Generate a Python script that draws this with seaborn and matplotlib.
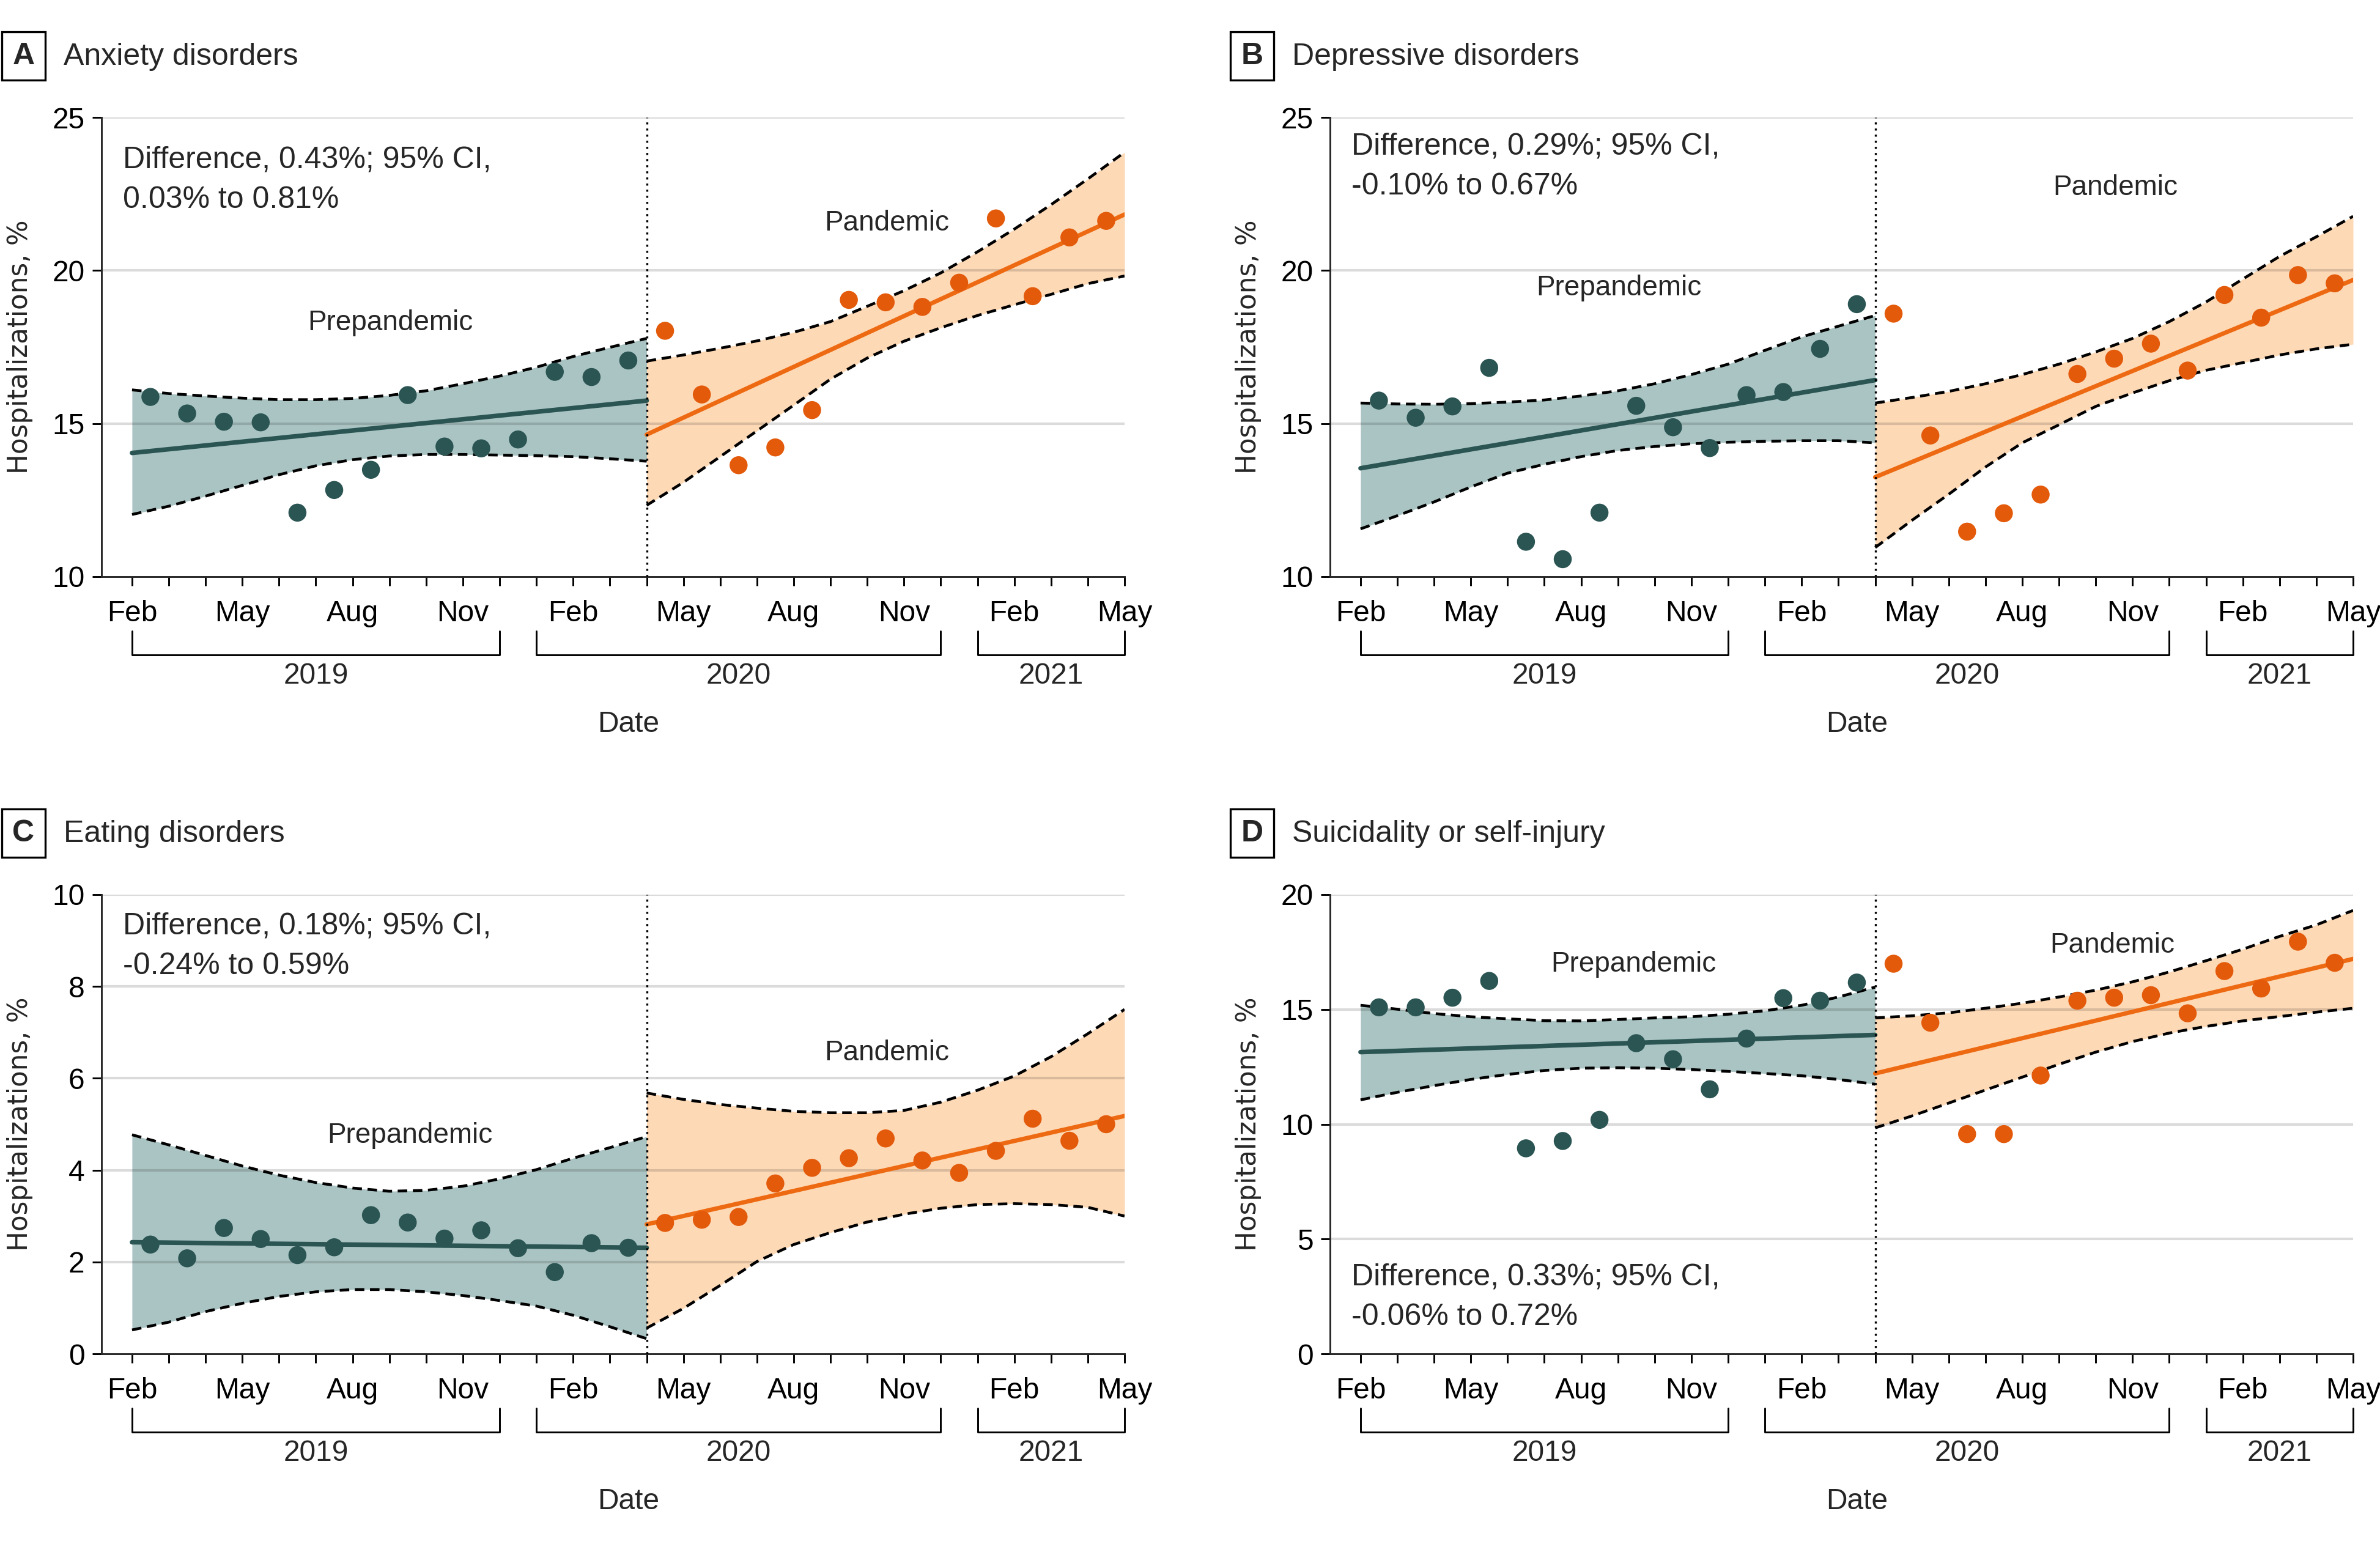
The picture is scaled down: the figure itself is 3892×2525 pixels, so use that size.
# Hospitalizations for mental health conditions, prepandemic vs pandemic
# 4 panels: monthly points + fitted trend with 95% CI band

import numpy as np
import pandas as pd
import matplotlib
matplotlib.use("Agg")
import matplotlib.pyplot as plt
import matplotlib.transforms as mtransforms
from matplotlib.patches import Rectangle
import seaborn as sns

# 1. Axis categories (month index 0 = Feb 2019, 27 = May 2021)
start = pd.Period("2019-02", freq="M")
pre_months = pd.period_range("2019-02", "2020-03", freq="M")
pan_months = pd.period_range("2020-04", "2021-04", freq="M")
tick_months = pd.period_range("2019-02", "2021-05", freq="M")
tick_names = ["Feb", "", "", "May", "", "", "Aug", "", "", "Nov", "", "",
              "Feb", "", "", "May", "", "", "Aug", "", "", "Nov", "", "",
              "Feb", "", "", "May"]
years = ["2019", "2020", "2021"]
year_spans = [("2019-02", "2019-12"), ("2020-01", "2020-12"), ("2021-01", "2021-05")]
pandemic_start = "2020-04"

# months at which the CI band edges were read
band_x_pre = list(range(0, 15))
band_x_pan = list(range(14, 28))

# 2. Panel A - Anxiety disorders
anx_pre = [15.87, 15.33, 15.06, 15.04, 12.09, 12.83, 13.49, 15.93, 14.25, 14.19, 14.48, 16.69, 16.52, 17.06]
anx_pan = [18.03, 15.95, 13.64, 14.22, 15.44, 19.04, 18.96, 18.81, 19.60, 21.70, 19.16, 21.08, 21.62]
anx_fit_pre = [14.04, 15.75]
anx_fit_pan = [14.64, 21.83]
anx_up_pre = [16.10, 15.98, 15.90, 15.83, 15.78, 15.78, 15.82, 15.92, 16.07, 16.30, 16.55, 16.84, 17.19, 17.49, 17.78]
anx_lo_pre = [12.03, 12.30, 12.63, 12.98, 13.33, 13.62, 13.82, 13.94, 13.99, 13.99, 13.97, 13.95, 13.92, 13.85, 13.77]
anx_up_pan = [17.04, 17.24, 17.46, 17.70, 17.98, 18.33, 18.83, 19.34, 19.92, 20.61, 21.35, 22.15, 22.99, 23.86]
anx_lo_pan = [12.33, 13.08, 13.92, 14.76, 15.60, 16.45, 17.14, 17.69, 18.13, 18.53, 18.88, 19.22, 19.57, 19.82]

# 3. Panel B - Depressive disorders
dep_pre = [15.75, 15.19, 15.56, 16.82, 11.14, 10.57, 12.09, 15.58, 14.88, 14.20, 15.93, 16.03, 17.44, 18.90]
dep_pan = [18.59, 14.61, 11.47, 12.07, 12.68, 16.62, 17.12, 17.61, 16.73, 19.20, 18.46, 19.85, 19.58]
dep_fit_pre = [13.54, 16.42]
dep_fit_pan = [13.25, 19.69]
dep_up_pre = [15.67, 15.64, 15.63, 15.65, 15.70, 15.77, 15.90, 16.07, 16.30, 16.60, 16.94, 17.39, 17.83, 18.18, 18.53]
dep_lo_pre = [11.56, 11.99, 12.44, 12.93, 13.38, 13.67, 13.92, 14.12, 14.25, 14.34, 14.39, 14.42, 14.44, 14.44, 14.37]
dep_up_pan = [15.67, 15.85, 16.05, 16.30, 16.60, 16.94, 17.34, 17.78, 18.33, 18.97, 19.72, 20.46, 21.10, 21.77]
dep_lo_pan = [10.95, 11.84, 12.69, 13.58, 14.37, 14.96, 15.56, 16.00, 16.40, 16.74, 16.99, 17.24, 17.44, 17.59]

# 4. Panel C - Eating disorders
eat_pre = [2.38, 2.08, 2.74, 2.50, 2.15, 2.32, 3.02, 2.86, 2.51, 2.69, 2.30, 1.78, 2.41, 2.31]
eat_pan = [2.85, 2.92, 2.98, 3.71, 4.05, 4.26, 4.69, 4.21, 3.94, 4.42, 5.12, 4.64, 5.00]
eat_fit_pre = [2.43, 2.31]
eat_fit_pan = [2.82, 5.18]
eat_up_pre = [4.77, 4.55, 4.32, 4.09, 3.89, 3.73, 3.61, 3.54, 3.56, 3.65, 3.81, 4.01, 4.26, 4.49, 4.73]
eat_lo_pre = [0.52, 0.69, 0.92, 1.10, 1.25, 1.35, 1.40, 1.40, 1.35, 1.27, 1.16, 1.04, 0.84, 0.59, 0.33]
eat_up_pan = [5.68, 5.54, 5.43, 5.35, 5.28, 5.25, 5.25, 5.30, 5.48, 5.74, 6.05, 6.47, 6.97, 7.50]
eat_lo_pan = [0.56, 0.99, 1.49, 2.01, 2.38, 2.64, 2.87, 3.04, 3.17, 3.25, 3.27, 3.25, 3.19, 3.00]

# 5. Panel D - Suicidality or self-injury
sui_pre = [15.09, 15.09, 15.51, 16.24, 8.95, 9.27, 10.19, 13.53, 12.83, 11.52, 13.73, 15.49, 15.38, 16.17]
sui_pan = [16.99, 14.42, 9.57, 9.57, 12.12, 15.38, 15.51, 15.62, 14.83, 16.67, 15.91, 17.95, 17.03]
sui_fit_pre = [13.14, 13.89]
sui_fit_pan = [12.21, 17.20]
sui_up_pre = [15.18, 15.01, 14.82, 14.68, 14.59, 14.51, 14.50, 14.56, 14.63, 14.68, 14.79, 14.94, 15.18, 15.54, 15.97]
sui_lo_pre = [11.06, 11.39, 11.68, 11.95, 12.17, 12.34, 12.44, 12.46, 12.44, 12.38, 12.30, 12.21, 12.11, 11.95, 11.74]
sui_up_pan = [14.63, 14.72, 14.85, 15.05, 15.27, 15.54, 15.84, 16.20, 16.63, 17.12, 17.62, 18.18, 18.68, 19.31]
sui_lo_pan = [9.84, 10.36, 10.92, 11.49, 12.05, 12.61, 13.14, 13.60, 13.97, 14.26, 14.50, 14.69, 14.88, 15.05]

# colours
teal = "#2a5553"
teal_fill = "#aac4c3"
orange = "#e35a0b"
orange_line = "#ee6a12"
peach = "#fdd9b6"


def month_pos(p):
    return (pd.Period(p, freq="M") - start).n


pre_x = [month_pos(p) + 0.5 for p in pre_months]
pan_x = [month_pos(p) + 0.5 for p in pan_months]
tick_x = [month_pos(p) for p in tick_months]
x_break = month_pos(pandemic_start)

panels = [
    dict(letter="A", title="Anxiety disorders", ylim=(10, 25), yticks=[10, 15, 20, 25],
         pre=anx_pre, pan=anx_pan, fit_pre=anx_fit_pre, fit_pan=anx_fit_pan,
         up_pre=anx_up_pre, lo_pre=anx_lo_pre, up_pan=anx_up_pan, lo_pan=anx_lo_pan,
         diff="Difference, 0.43%; 95% CI,", ci="0.03% to 0.81%", diff_y=0.907,
         pre_lab=(7.02, 18.28), pan_lab=(20.54, 21.55)),
    dict(letter="B", title="Depressive disorders", ylim=(10, 25), yticks=[10, 15, 20, 25],
         pre=dep_pre, pan=dep_pan, fit_pre=dep_fit_pre, fit_pan=dep_fit_pan,
         up_pre=dep_up_pre, lo_pre=dep_lo_pre, up_pan=dep_up_pan, lo_pan=dep_lo_pan,
         diff="Difference, 0.29%; 95% CI,", ci="-0.10% to 0.67%", diff_y=0.9365,
         pre_lab=(7.02, 19.42), pan_lab=(20.54, 22.71)),
    dict(letter="C", title="Eating disorders", ylim=(0, 10), yticks=[0, 2, 4, 6, 8, 10],
         pre=eat_pre, pan=eat_pan, fit_pre=eat_fit_pre, fit_pan=eat_fit_pan,
         up_pre=eat_up_pre, lo_pre=eat_lo_pre, up_pan=eat_up_pan, lo_pan=eat_lo_pan,
         diff="Difference, 0.18%; 95% CI,", ci="-0.24% to 0.59%", diff_y=0.931,
         pre_lab=(7.56, 4.75), pan_lab=(20.54, 6.55)),
    dict(letter="D", title="Suicidality or self-injury", ylim=(0, 20), yticks=[0, 5, 10, 15, 20],
         pre=sui_pre, pan=sui_pan, fit_pre=sui_fit_pre, fit_pan=sui_fit_pan,
         up_pre=sui_up_pre, lo_pre=sui_lo_pre, up_pan=sui_up_pan, lo_pan=sui_lo_pan,
         diff="Difference, 0.33%; 95% CI,", ci="-0.06% to 0.72%", diff_y=0.167,
         pre_lab=(7.43, 16.96), pan_lab=(20.45, 17.80)),
]

# 6. Figure setup
sns.set_theme(style="ticks")
plt.rcParams["font.family"] = ["Liberation Sans", "DejaVu Sans"]
plt.rcParams["axes.linewidth"] = 0.7

W, H = 3892, 2525
fig = plt.figure(figsize=(W / 300, H / 300), dpi=300)

# axes placement in pixels: left, top (width 1673, height 751)
ax_px = [(166, 192), (2175, 192), (166, 1463), (2175, 1463)]
ax_w, ax_h = 1673, 751

for p, (left, top) in zip(panels, ax_px):
    ax = fig.add_axes([left / W, 1 - (top + ax_h) / H, ax_w / W, ax_h / H])

    # CI bands
    ax.fill_between(band_x_pre, p["lo_pre"], p["up_pre"], color=teal_fill, lw=0, zorder=1)
    ax.fill_between(band_x_pan, p["lo_pan"], p["up_pan"], color=peach, lw=0, zorder=1)
    for yv in p["yticks"][1:]:
        ax.axhline(yv, color="black", alpha=0.14, lw=1.0, zorder=1.5)
    for xs, ys in [(band_x_pre, p["up_pre"]), (band_x_pre, p["lo_pre"]),
                   (band_x_pan, p["up_pan"]), (band_x_pan, p["lo_pan"])]:
        ax.plot(xs, ys, color="black", lw=1.1, dashes=(3.4, 2.0), zorder=2)

    # fitted trends
    sns.lineplot(x=[0, x_break], y=p["fit_pre"], color=teal, lw=1.8, ax=ax, zorder=3)
    sns.lineplot(x=[x_break, tick_x[-1]], y=p["fit_pan"], color=orange_line, lw=1.7, ax=ax, zorder=3)

    # monthly points
    sns.scatterplot(x=pre_x, y=p["pre"], color=teal, s=50, edgecolor="none", ax=ax, zorder=4)
    sns.scatterplot(x=pan_x, y=p["pan"], color=orange, s=50, edgecolor="none", ax=ax, zorder=4)

    ax.axvline(x_break, color="black", lw=0.8, ls=(0, (1, 2.0)), zorder=5)

    ax.set_xlim(-0.83, tick_x[-1])
    ax.set_ylim(*p["ylim"])
    ax.set_yticks(p["yticks"])
    ax.set_xticks(tick_x)
    ax.set_xticklabels(tick_names)
    ax.tick_params(axis="both", length=3.6, width=0.7, pad=3, labelsize=11.5, colors="black")
    ax.tick_params(axis="x", pad=5.5)
    sns.despine(ax=ax)
    ax.set_xlabel("")
    ax.set_ylabel("Hospitalizations, %", fontsize=10.5, family="DejaVu Sans", labelpad=7.5)

    trans = mtransforms.blended_transform_factory(ax.transData, ax.transAxes)
    # year brackets
    for yr, (a, b) in zip(years, year_spans):
        xa, xb = month_pos(a), month_pos(b)
        ax.plot([xa, xa, xb, xb], [-0.1185, -0.1704, -0.1704, -0.1185], transform=trans,
                color="black", lw=0.7, clip_on=False)
        ax.text((xa + xb) / 2, -0.216, yr, transform=trans, ha="center", va="center", fontsize=11.5)
    ax.text(tick_x[-1] / 2, -0.322, "Date", transform=trans, ha="center", va="center", fontsize=11.5)

    # annotations
    ax.text(0.021, p["diff_y"], p["diff"], transform=ax.transAxes, ha="left", va="center", fontsize=12)
    ax.text(0.021, p["diff_y"] - 0.0865, p["ci"], transform=ax.transAxes, ha="left", va="center", fontsize=12)
    ax.text(*p["pre_lab"], "Prepandemic", ha="center", va="center", fontsize=11)
    ax.text(*p["pan_lab"], "Pandemic", ha="center", va="center", fontsize=11)

    # panel letter box and title
    bx = left - 163
    by = top - 140
    fig.add_artist(Rectangle((bx / W, 1 - (by + 79) / H), 71 / W, 79 / H, transform=fig.transFigure,
                             fill=False, ec="black", lw=0.8))
    fig.text((bx + 35.5) / W, 1 - (by + 40) / H, p["letter"], ha="center", va="center",
             fontsize=12, fontweight="bold")
    fig.text((left - 62) / W, 1 - (top - 99) / H, p["title"], ha="left", va="center", fontsize=12)

fig.savefig("out.png", dpi=300, facecolor="white")
